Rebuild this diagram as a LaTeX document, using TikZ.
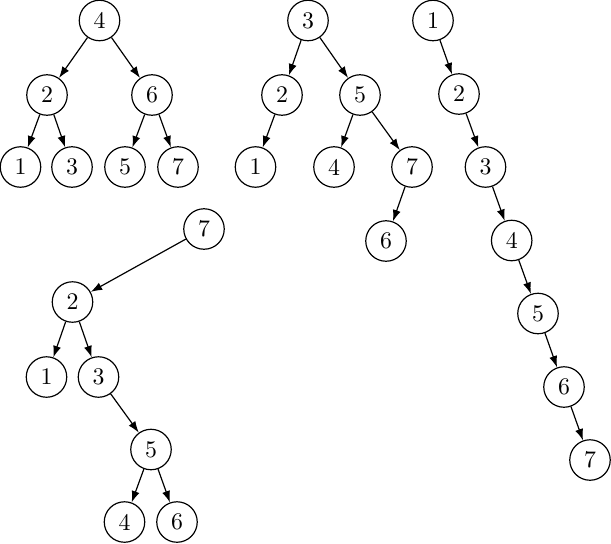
\documentclass[tikz,border=0pt]{standalone}
\usetikzlibrary{arrows.meta}
\begin{document}
\begin{tikzpicture}[x=0.42pt,y=-0.42pt,
  tn/.style={circle,draw,line width=0.5pt,minimum size=17pt,inner sep=0pt},
  edge/.style={line width=0.5pt,-{Latex[length=4.8pt,width=3.4pt]}}]
\useasboundingbox (0,0) rectangle (611,543);
% tree 1
\node[tn] (a4) at (99.5,20.5) {4};
\node[tn] (a2) at (47,95) {2};
\node[tn] (a6) at (152,95) {6};
\node[tn] (a1) at (20.5,167) {1};
\node[tn] (a3) at (72,167) {3};
\node[tn] (a5) at (125,167) {5};
\node[tn] (a7) at (178,167) {7};
\draw[edge] (a4) -- (a2);
\draw[edge] (a4) -- (a6);
\draw[edge] (a2) -- (a1);
\draw[edge] (a2) -- (a3);
\draw[edge] (a6) -- (a5);
\draw[edge] (a6) -- (a7);
% tree 2
\node[tn] (b3) at (308,20.5) {3};
\node[tn] (b2) at (282,95) {2};
\node[tn] (b5) at (360,95) {5};
\node[tn] (b1) at (255.5,167) {1};
\node[tn] (b4) at (334,167) {4};
\node[tn] (b7) at (412,167) {7};
\node[tn] (b6) at (386,241) {6};
\draw[edge] (b3) -- (b2);
\draw[edge] (b3) -- (b5);
\draw[edge] (b2) -- (b1);
\draw[edge] (b5) -- (b4);
\draw[edge] (b5) -- (b7);
\draw[edge] (b7) -- (b6);
% tree 3
\node[tn] (c1) at (433,20.5) {1};
\node[tn] (c2) at (459,94) {2};
\node[tn] (c3) at (485.5,167) {3};
\node[tn] (c4) at (511.7,240.5) {4};
\node[tn] (c5) at (538,313.5) {5};
\node[tn] (c6) at (564,387) {6};
\node[tn] (c7) at (590,460) {7};
\draw[edge] (c1) -- (c2);
\draw[edge] (c2) -- (c3);
\draw[edge] (c3) -- (c4);
\draw[edge] (c4) -- (c5);
\draw[edge] (c5) -- (c6);
\draw[edge] (c6) -- (c7);
% tree 4
\node[tn] (d7) at (204,229) {7};
\node[tn] (d2) at (72.5,302) {2};
\node[tn] (d1) at (46.5,377) {1};
\node[tn] (d3) at (98.5,377) {3};
\node[tn] (d5) at (151,449.5) {5};
\node[tn] (d4) at (124.5,522) {4};
\node[tn] (d6) at (177,522) {6};
\draw[edge] (d7) -- (d2);
\draw[edge] (d2) -- (d1);
\draw[edge] (d2) -- (d3);
\draw[edge] (d3) -- (d5);
\draw[edge] (d5) -- (d4);
\draw[edge] (d5) -- (d6);
\end{tikzpicture}
\end{document}
